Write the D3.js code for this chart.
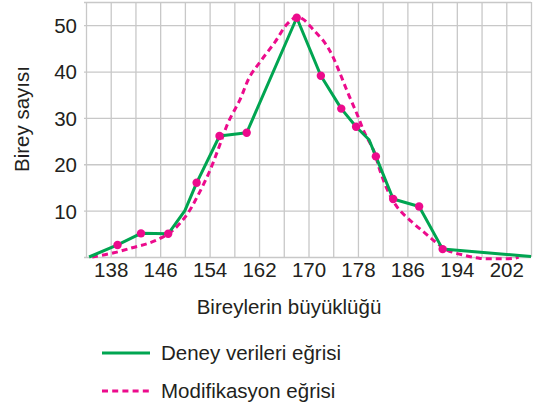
<!DOCTYPE html>
<html>
<head>
<meta charset="utf-8">
<script src="https://cdn.jsdelivr.net/npm/d3@7"></script>
<style>
  body { margin: 0; background: #fff; }
  svg { display: block; font-family: "Liberation Sans", Arial, sans-serif; }
  .grid line { stroke: #c8c8c8; stroke-width: 1.3; }
  .grid path, .axis path { display: none; }
  .axis text { fill: #231f20; font-size: 20.5px; }
</style>
</head>
<body>
<div id="chart"></div>
<script>
// Tick labels
const xTicks = [138, 146, 154, 162, 170, 178, 186, 194, 202];
const yTicks = [10, 20, 30, 40, 50];

// Deney verileri (green polyline)
const deneyX = [134.5, 139.1, 142.9, 147.3, 150, 151.9, 155.6, 160, 168.1, 172, 175.3, 177.7, 179.8, 180.9, 183.7, 187.9, 191.7, 206];
const deneyY = [0, 2.6, 5.1, 5.0, 10, 16, 26.1, 26.8, 51.6, 39.1, 32, 28.1, 25.3, 21.7, 12.5, 10.9, 1.7, 0.1];
// measured points (pink dots)
const noktaX = [139.1, 142.9, 147.3, 151.9, 155.6, 160, 168.1, 172, 175.3, 177.7, 180.9, 183.7, 187.9, 191.7];
const noktaY = [2.6, 5.1, 5.0, 16, 26.1, 26.8, 51.6, 39.1, 32, 28.1, 21.7, 12.5, 10.9, 1.7];

// Modifikasyon egrisi (pink dashed)
const modX = [135, 138.5, 141.5, 144, 146, 148.1, 150.3, 152, 154, 155.6, 157, 158.9, 160.5, 162.4, 164.6, 166.5, 168, 169, 170.8, 172.7, 173.8, 175.1, 176.4, 177.8, 179.1, 180.5, 181.6, 182.9, 184.5, 186.7, 188.9, 190.5, 192.4, 195.1, 197.8, 200.5, 203.2, 204];
const modY = [0, 0.9, 2.0, 2.9, 4.0, 5.8, 9.1, 13, 18.5, 24, 29, 33.9, 38.9, 42.5, 46.4, 50.2, 51.7, 51.4, 49, 46.1, 43.6, 39.6, 35.3, 31, 26.7, 23.1, 18.5, 14.1, 10.5, 7.6, 5.1, 3.3, 1.5, 0.4, -0.3, -0.4, -0.3, 0];

const green = "#00a551";
const pink = "#ec0b8c";

const margin = { top: 2, right: 2, bottom: 151, left: 86 };
const width = 533 - margin.left - margin.right;
const height = 408 - margin.top - margin.bottom;

const x = d3.scaleLinear().domain([134, 206]).range([0, width]);
const y = d3.scaleLinear().domain([0, 55]).range([height, 0]);

const svg = d3.select("#chart")
  .append("svg")
  .attr("width", 533)
  .attr("height", 408);

const g = svg.append("g")
  .attr("transform", `translate(${margin.left},${margin.top})`);

// grid
g.append("g")
  .attr("class", "grid")
  .attr("transform", `translate(0,${height})`)
  .call(d3.axisBottom(x).tickValues(d3.range(134, 207, 4)).tickSize(-height).tickFormat(""));

g.append("g")
  .attr("class", "grid")
  .call(d3.axisLeft(y).tickValues([0, 10, 20, 30, 40, 50, 55]).tickSize(-width - 2).tickFormat(""))
  .selectAll("line").attr("x1", -2).attr("x2", width);

// axes labels
const xAxis = g.append("g")
  .attr("class", "axis")
  .attr("transform", `translate(0,${height})`)
  .call(d3.axisBottom(x).tickValues(xTicks).tickSize(0));
xAxis.selectAll("text").attr("y", 20).attr("dy", null);

const yAxis = g.append("g")
  .attr("class", "axis")
  .call(d3.axisLeft(y).tickValues(yTicks).tickSize(0).tickPadding(9));
yAxis.selectAll("text").attr("dy", "0.36em");

// lines
const line = d3.line()
  .x(i => x(modX[i]))
  .y(i => y(modY[i]))
  .curve(d3.curveCatmullRom);

g.append("path")
  .attr("d", line(d3.range(modX.length)))
  .attr("fill", "none")
  .attr("stroke", pink)
  .attr("stroke-width", 3)
  .attr("stroke-dasharray", "6,4");

const deneyLine = d3.line()
  .x(i => x(deneyX[i]))
  .y(i => y(deneyY[i]));

g.append("path")
  .attr("d", deneyLine(d3.range(deneyX.length)))
  .attr("fill", "none")
  .attr("stroke", green)
  .attr("stroke-width", 3)
  .attr("stroke-linejoin", "round");

g.selectAll(".dot")
  .data(noktaX)
  .enter()
  .append("circle")
  .attr("class", "dot")
  .attr("cx", d => x(d))
  .attr("cy", (d, i) => y(noktaY[i]))
  .attr("r", 4.2)
  .attr("fill", pink);

// titles
svg.append("text")
  .attr("x", 289)
  .attr("y", 314)
  .attr("text-anchor", "middle")
  .attr("font-size", "20.5px")
  .attr("fill", "#231f20")
  .text("Bireylerin büyüklüğü");

svg.append("text")
  .attr("transform", "translate(29,119) rotate(-90)")
  .attr("text-anchor", "middle")
  .attr("font-size", "20.5px")
  .attr("fill", "#231f20")
  .text("Birey sayısı");

// legend
const legend = [
  { label: "Deney verileri eğrisi", color: green, dash: null, y: 353 },
  { label: "Modifikasyon eğrisi", color: pink, dash: "6,4.2", y: 391 }
];

legend.forEach(d => {
  svg.append("line")
    .attr("x1", 102).attr("x2", 150)
    .attr("y1", d.y).attr("y2", d.y)
    .attr("stroke", d.color)
    .attr("stroke-width", 3)
    .attr("stroke-dasharray", d.dash);
  svg.append("text")
    .attr("x", 161)
    .attr("y", d.y + 7)
    .attr("font-size", "20.5px")
    .attr("fill", "#231f20")
    .text(d.label);
});
</script>
</body>
</html>
